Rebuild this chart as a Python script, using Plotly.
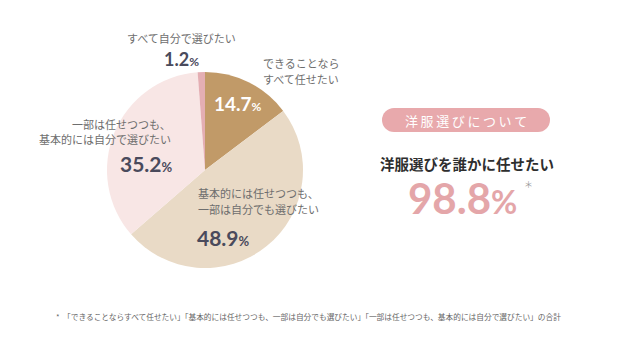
import plotly.graph_objects as go

labels = ["できることならすべて任せたい", "基本的には任せつつも、一部は自分でも選びたい",
          "一部は任せつつも、基本的には自分で選びたい", "すべて自分で選びたい"]
values = [14.7, 48.9, 35.2, 1.2]
colors = ["#C19A68", "#E9DAC6", "#F8E6E5", "#E4AEB3"]
total_value = 98.8

JP = "Noto Sans CJK JP"
NUM = "Lato"
W, H = 640, 362
OFF = 8  # page body margin
cx, cy, r = 205, 170, 98

def px(x):
    return (x - OFF) / W

def py(y):
    return 1 - (y - OFF) / H

fig = go.Figure(go.Pie(
    labels=labels, values=values, sort=False, direction="clockwise", rotation=0,
    marker=dict(colors=colors, line=dict(width=0)), textinfo="none", hoverinfo="label+percent",
    domain=dict(x=[px(cx - r), px(cx + r)], y=[py(cy + r), py(cy - r)]),
    showlegend=False,
))

ann = []
def add(x, y, text, size, color, font=JP, xanchor="center", align="center"):
    ann.append(dict(x=px(x), y=py(y), xref="paper", yref="paper", text=text, showarrow=False,
                    font=dict(family=font, size=size, color=color), xanchor=xanchor, yanchor="middle",
                    align=align, borderpad=0))

gray = "#6E6E6E"
dark = "#4A4A5C"
def pct(v, small):
    return f"<b>{v}</b><span style='font-size:{small}px'><b>%</b></span>"

def spaced(s):
    return "\u2009".join(s)

add(181, 38, "すべて自分で選びたい", 11, gray)
add(181, 59, pct(values[3], 12), 18, dark, NUM)
add(262, 63, "できることなら", 11, gray, xanchor="left")
add(262, 79, "すべて任せたい", 11, gray, xanchor="left")
add(238, 103, pct(values[0], 12), 19, "#FFFFFF", NUM)
add(172, 124, "一部は任せつつも、", 11, gray, xanchor="right")
add(172, 139, "基本的には自分で選びたい", 11, gray, xanchor="right")
add(174, 163, pct(values[2], 13), 21, dark, NUM, xanchor="right")
add(197, 193, "基本的には任せつつも、", 11, gray, xanchor="left")
add(197, 209, "一部は自分でも選びたい", 11, gray, xanchor="left")
add(196, 237, pct(values[1], 13), 21, dark, NUM, xanchor="left")

add(466, 120, spaced("洋服選びについて"), 13, "#FFFFFF")
add(467, 163, "<b>洋服選びを誰かに任せたい</b>", 14.5, "#2E2E2E")
add(462, 198, f"<b>{total_value}</b><span style='font-size:32px'><b>%</b></span>", 42, "#E4A6A9", NUM)
add(528, 184, "＊", 9, "#9A9A9A")
add(55, 316, "*  「できることならすべて任せたい」「基本的には任せつつも、一部は自分でも選びたい」「一部は任せつつも、基本的には自分で選びたい」の合計",
    7.7, "#666666", xanchor="left", align="left")

# pill badge
x0, x1, y0, y1 = 382, 550, 108, 132
rr = (y1 - y0) / 2
badge = "#E8A9AC"
shapes = [dict(type="rect", xref="paper", yref="paper", x0=px(x0 + rr), x1=px(x1 - rr), y0=py(y1), y1=py(y0),
               fillcolor=badge, line=dict(width=0), layer="below"),
          dict(type="circle", xref="paper", yref="paper", x0=px(x0), x1=px(x0 + 2 * rr), y0=py(y1), y1=py(y0),
               fillcolor=badge, line=dict(width=0), layer="below"),
          dict(type="circle", xref="paper", yref="paper", x0=px(x1 - 2 * rr), x1=px(x1), y0=py(y1), y1=py(y0),
               fillcolor=badge, line=dict(width=0), layer="below")]

fig.update_layout(width=W, height=H, margin=dict(l=0, r=0, t=0, b=0),
                  paper_bgcolor="#FFFFFF", plot_bgcolor="#FFFFFF",
                  annotations=ann, shapes=shapes)
fig.write_html("out.html")
